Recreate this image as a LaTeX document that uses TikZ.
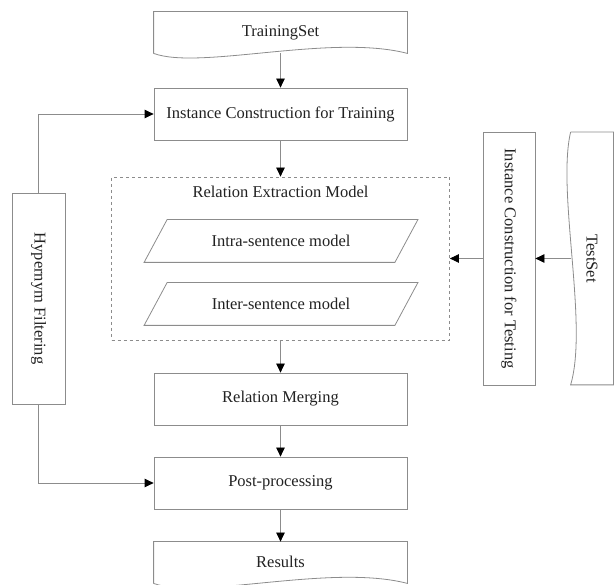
\documentclass[tikz,border=0pt]{standalone}
\usepackage{fontspec}
\setmainfont{Liberation Serif}
\usetikzlibrary{calc,arrows.meta,positioning}
\definecolor{fc-line}{HTML}{8C8C8C}
\definecolor{fc-text}{HTML}{222222}

\begin{document}
\begin{tikzpicture}[x=1pt, y=-1pt, line width=0.8pt, >={Triangle[length=9pt,width=8.5pt,color=black]},
    every node/.style={font=\fontsize{16.5}{19}\selectfont, text=fc-text, inner sep=0pt},
    procbox/.style={draw=fc-line, rectangle, minimum width=253pt, minimum height=52pt},
    sidebox/.style={procbox, rotate=-90},
    docbox/.style={rectangle, minimum width=253pt, minimum height=41pt},
    link/.style={draw=fc-line, ->}]
    \useasboundingbox (0,0) rectangle (614,585);

    % main column
    \node[docbox] (trainset) at (280.5,32.5) {\raisebox{2pt}{TrainingSet}};
    \node[procbox] (trainbox) at (280.5,114) {Instance Construction for Training};
    \node[draw=fc-line, dashed, rectangle, minimum width=338pt, minimum height=163pt] (rem) at (280.5,258.5) {};
    \node (remlabel) at (280.5,192) {Relation Extraction Model};
    \node[rectangle, minimum width=250pt, minimum height=42pt] (intra) at (281,241) {Intra-sentence model};
    \node[rectangle, minimum width=250pt, minimum height=42pt] (inter) at (281,304) {Inter-sentence model};
    \node[procbox] (merge) at (280.5,399) {Relation Merging};
    \node[procbox] (post) at (280.5,483) {Post-processing};
    \node[docbox] (results) at (280.5,562.5) {\raisebox{2pt}{Results}};

    % side boxes
    \node[sidebox, minimum width=211pt, minimum height=53pt] (hyper) at (38.5,298.5) {Hypernym Filtering};
    \node[sidebox] (testbox) at (509,258.5) {Instance Construction for Testing};
    \node[docbox, rotate=-90, minimum width=252pt, minimum height=42pt] (testset) at (592,258.5) {TestSet};

    % wavy documents and slanted models
    \draw[fc-line] (trainset.south west) -- (trainset.north west) -- (trainset.north east) -- (trainset.south east)
        .. controls +(-77,-20) and +(46,17) .. (trainset.south west);
    \draw[fc-line] (results.south west) -- (results.north west) -- (results.north east) -- (results.south east)
        .. controls +(-77,-20) and +(46,17) .. (results.south west);
    \draw[fc-line] (testset.south west) -- (testset.north west) -- (testset.north east) -- (testset.south east)
        .. controls +(18,-60) and +(-14,60) .. (testset.south west);
    \foreach \m in {intra,inter} {
        \draw[fc-line] ($(\m.south west)+(-11.5,0)$) -- ($(\m.north west)+(11.5,0)$)
            -- ($(\m.north east)+(11.5,0)$) -- ($(\m.south east)+(-11.5,0)$) -- cycle;
    }

    % arrows
    \draw[link] (trainset) -- (trainbox);
    \draw[link] (trainbox) -- (rem);
    \draw[link] (rem) -- (merge);
    \draw[link] (merge) -- (post);
    \draw[link] (post) -- (results);
    \draw[link] (hyper.west) |- (trainbox.west);
    \draw[link] (hyper.east) |- (post.west);
    \draw[link] (testset) -- (testbox);
    \draw[link] (testbox) -- (testbox -| rem.east);
\end{tikzpicture}
\end{document}
